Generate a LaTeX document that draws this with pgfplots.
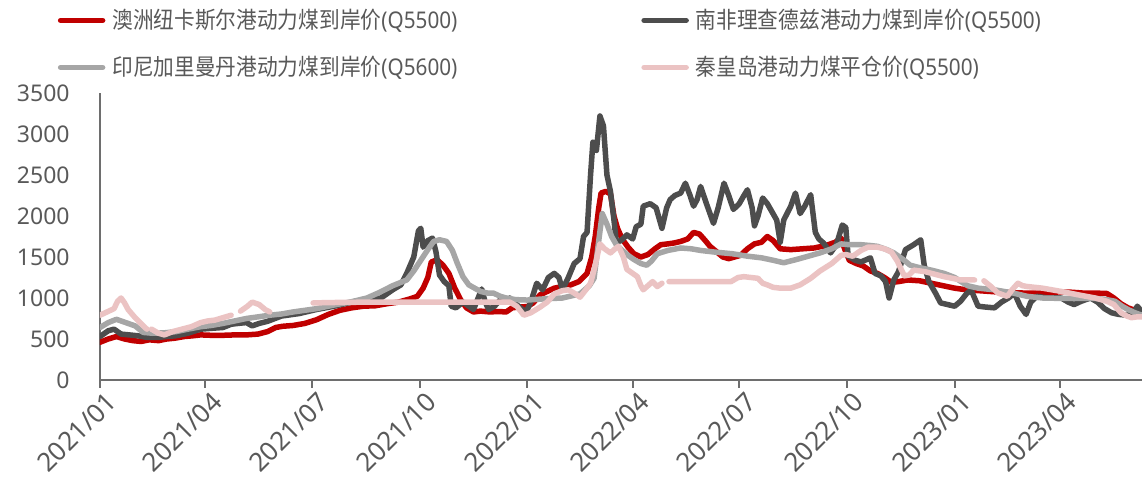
\documentclass[border=0pt]{standalone}
\usepackage{pgfplots}
\pgfplotsset{compat=1.18}
\usepackage{fontspec}
\setmainfont{Noto Sans}
\newfontfamily\cjk{Noto Sans CJK SC}
\definecolor{RED}{RGB}{192,0,0}
\definecolor{DARK}{RGB}{77,77,77}
\definecolor{LGRAY}{RGB}{166,166,166}
\definecolor{PINK}{RGB}{235,195,195}
\definecolor{TXT}{RGB}{89,89,89}
\definecolor{AXC}{RGB}{110,110,110}
\newcommand\lgd[2]{\scalebox{0.9}[1]{{\cjk #1}(#2)}}

\begin{document}
\begin{tikzpicture}
\begin{axis}[
    at={(0,0)}, anchor=south west,
    scale only axis, width=521pt, height=143.5pt,
    xmin=0, xmax=890, ymin=0, ymax=3500,
    axis lines=left,
    axis line style={-, draw=AXC, line width=1pt},
    x axis line style={-}, y axis line style={-},
    xtick={0,90,181,273,365,455,546,638,730,820},
    xticklabels={2021/01,2021/04,2021/07,2021/10,2022/01,2022/04,2022/07,2022/10,2023/01,2023/04},
    ytick={0,500,...,3500},
    xtick align=outside, major tick length=4pt,
    tick style={draw=AXC, line width=1pt},
    ytick style={draw=none},
    ticklabel style={font=\fontsize{11.5}{13.8}\selectfont, text=TXT},
    x tick label style={font=\fontsize{13}{15}\selectfont, rotate=45, anchor=north east,
        inner sep=0pt, yshift=-2.5pt, xshift=1pt},
    y tick label style={anchor=east, inner sep=0pt, xshift=-13pt},
    /pgf/number format/assume math mode=true,
    /pgf/number format/1000 sep={},
    unbounded coords=jump,
    every axis plot/.append style={line width=2.75pt, line join=round, line cap=round},
    legend columns=2,
    legend image code/.code={\draw[#1] (0pt,0pt) -- (21pt,0pt);},
    legend style={draw=none, fill=none, inner sep=0pt,
        at={(axis description cs:0,1)}, anchor=north west,
        xshift=-21.25pt, yshift=42.5pt,
        column sep=0pt, row sep=11.5pt,
        font=\fontsize{11.5}{13.8}\selectfont, text=TXT,
        nodes={text width=261pt, align=left, inner xsep=3.5pt, inner ysep=0pt,
               text height=10pt, text depth=2pt}},
]
% 澳洲纽卡斯尔
\addplot[RED] coordinates {
(0,460) (7,500) (14,530) (21,500) (28,480) (35,470) (42,490) (50,480) (57,500)
(64,510) (72,530) (80,540) (86,550) (95,545) (105,545) (115,550) (125,550)
(135,560) (143,590) (150,640) (156,655) (165,665) (175,690) (185,735) (195,800)
(205,850) (215,880) (225,900) (235,905) (245,930) (255,950) (265,990) (271,1020)
(276,1120) (280,1250) (283,1440) (288,1465) (293,1400) (298,1300) (303,1120)
(308,980) (313,880) (319,830) (325,840) (333,830) (340,835) (347,830) (352,880)
(358,890) (365,895) (370,940) (376,1040) (382,1080) (388,1120) (395,1140)
(402,1160) (409,1200) (416,1300) (420,1500) (423,1750) (426,2100) (428,2280)
(432,2300) (436,2270) (439,2000) (442,1850) (446,1720) (451,1620) (456,1540)
(462,1500) (468,1530) (474,1600) (479,1650) (485,1660) (490,1670) (496,1690)
(502,1720) (507,1800) (512,1780) (517,1700) (521,1630) (527,1560) (532,1500)
(537,1480) (542,1500) (547,1520) (553,1600) (559,1660) (565,1680) (570,1750)
(575,1700) (581,1600) (590,1590) (600,1600) (610,1610) (620,1640) (628,1680)
(633,1730) (636,1600) (640,1460) (646,1420) (652,1390) (658,1330) (664,1300)
(670,1250) (676,1190) (682,1200) (690,1220) (700,1210) (710,1180) (720,1150)
(730,1120) (740,1100) (750,1090) (760,1080) (770,1070) (780,1065) (790,1060)
(800,1060) (810,1065) (820,1075) (830,1070) (840,1060) (850,1060) (860,1055)
(866,1000) (872,930) (878,880) (884,850) (890,820)
};
\addlegendentry{\lgd{澳洲纽卡斯尔港动力煤到岸价}{Q5500}}
% 南非理查德兹
\addplot[DARK] coordinates {
(0,530) (7,600) (12,620) (18,560) (25,550) (32,540) (40,520) (50,520) (57,530)
(65,540) (75,570) (86,620) (95,630) (105,640) (112,680) (118,690) (125,700)
(130,660) (136,690) (143,715) (155,780) (170,810) (185,860) (200,900) (215,950)
(230,990) (240,1000) (250,1100) (257,1160) (262,1300) (268,1500) (272,1820)
(274,1850) (276,1620) (280,1700) (284,1730) (287,1560) (290,1280) (294,1200)
(298,1150) (300,900) (304,880) (310,950) (315,900) (319,860) (323,1000)
(326,1110) (329,950) (332,860) (337,900) (342,980) (347,960) (350,1000)
(355,930) (360,870) (364,830) (368,950) (373,1180) (378,1100) (383,1250)
(388,1300) (392,1250) (395,1100) (400,1250) (405,1420) (410,1480) (413,1750)
(416,1800) (419,2500) (421,2900) (424,2800) (427,3220) (430,3100) (433,2500)
(436,2300) (439,1950) (441,1680) (445,1700) (450,1770) (455,1720) (458,1870)
(462,1900) (464,2120) (470,2150) (475,2100) (480,1850) (484,2100) (487,2200)
(491,2250) (496,2280) (500,2400) (504,2250) (507,2120) (510,2200) (513,2360)
(518,2150) (524,1910) (528,2100) (533,2400) (537,2250) (541,2080) (546,2150)
(550,2250) (553,2320) (557,2100) (559,1880) (562,2000) (566,2220) (570,2150)
(574,2050) (578,1950) (581,1680) (584,1950) (590,2120) (594,2280) (598,2030)
(602,2120) (607,2260) (611,1800) (614,1720) (618,1670) (624,1550) (629,1650)
(634,1890) (637,1860) (639,1510) (645,1460) (650,1440) (655,1470) (658,1490)
(662,1300) (667,1270) (671,1200) (674,1000) (678,1220) (682,1320) (688,1590)
(695,1650) (701,1710) (704,1400) (708,1200) (714,1050) (718,940) (724,920)
(730,900) (735,960) (740,1050) (744,1100) (747,1000) (750,900) (756,890)
(764,880) (770,950) (776,1000) (781,1060) (786,900) (791,800) (795,950)
(800,1020) (810,1000) (821,1000) (827,950) (832,920) (838,960) (846,1000)
(852,950) (858,870) (864,820) (870,800) (878,790) (884,850) (886,900) (890,830)
};
\addlegendentry{\lgd{南非理查德兹港动力煤到岸价}{Q5500}}
% 印尼加里曼丹
\addplot[LGRAY] coordinates {
(0,640) (7,700) (14,740) (22,700) (30,660) (37,580) (45,570) (55,575) (65,590)
(75,620) (86,650) (95,665) (105,690) (115,720) (125,750) (135,770) (145,790)
(155,805) (165,830) (175,850) (185,870) (200,915) (215,955) (228,1000)
(239,1070) (250,1150) (262,1220) (268,1330) (274,1460) (280,1590) (285,1690)
(290,1710) (296,1690) (301,1580) (305,1430) (310,1260) (315,1160) (320,1120)
(325,1080) (331,1060) (336,1060) (342,1020) (347,1000) (355,980) (365,975)
(380,990) (395,1000) (410,1050) (418,1150) (422,1240) (426,1700) (429,2030)
(433,1900) (437,1750) (441,1650) (446,1580) (451,1520) (456,1470) (462,1420)
(467,1400) (471,1450) (476,1540) (485,1580) (496,1610) (505,1600) (513,1580)
(525,1560) (540,1540) (553,1510) (565,1490) (575,1460) (584,1430) (595,1470)
(605,1510) (615,1550) (625,1600) (633,1660) (640,1650) (650,1650) (658,1640)
(664,1630) (672,1590) (678,1550) (686,1470) (692,1400) (700,1370) (710,1340)
(721,1300) (730,1250) (741,1150) (750,1120) (764,1100) (780,1060) (792,1020)
(805,1000) (821,995) (835,995) (850,995) (860,980) (867,960) (873,900)
(878,860) (884,820) (890,790)
};
\addlegendentry{\lgd{印尼加里曼丹港动力煤到岸价}{Q5600}}
% 秦皇岛
\addplot[PINK] coordinates {
(0,790) (6,830) (12,870) (15,960) (18,1000) (21,940) (24,860) (30,760)
(37,660) (40,620) (42,nan) (44,620) (50,570) (55,550) (62,590) (70,620)
(78,650) (86,700) (92,720) (98,730) (105,760) (112,790) (116,nan) (120,840)
(126,900) (130,950) (136,920) (141,860) (145,830) (160,nan) (182,940)
(200,945) (230,950) (260,950) (300,950) (330,950) (350,950) (356,900)
(362,790) (368,820) (376,890) (382,950) (388,1050) (395,1090) (400,1100)
(405,1060) (410,1010) (415,1100) (419,1180) (423,1400) (427,1660) (431,1600)
(436,1550) (440,1600) (443,1630) (447,1500) (450,1350) (455,1300) (459,1260)
(462,1150) (464,1100) (468,1150) (472,1200) (476,1140) (480,1180) (483,nan)
(486,1200) (500,1200) (520,1200) (539,1200) (545,1250) (550,1260) (556,1250)
(562,1240) (566,1180) (570,1160) (575,1130) (581,1120) (590,1120) (598,1160)
(607,1240) (615,1330) (625,1420) (633,1520) (637,1530) (643,1510) (650,1580)
(656,1620) (664,1620) (670,1600) (676,1560) (681,1450) (687,1270) (691,1280)
(695,1340) (705,1320) (721,1260) (735,1220) (747,1220) (751,nan) (755,1210)
(761,1140) (767,1060) (775,1020) (779,1100) (784,1180) (788,1150) (792,1140)
(805,1120) (821,1080) (835,1040) (850,1000) (860,960) (866,920) (872,820)
(877,780) (881,760) (886,770) (890,770)
};
\addlegendentry{\lgd{秦皇岛港动力煤平仓价}{Q5500}}
\end{axis}
\pgfresetboundingbox
\useasboundingbox (-50pt,-51pt) rectangle (521pt,190pt);
\end{tikzpicture}
\end{document}
